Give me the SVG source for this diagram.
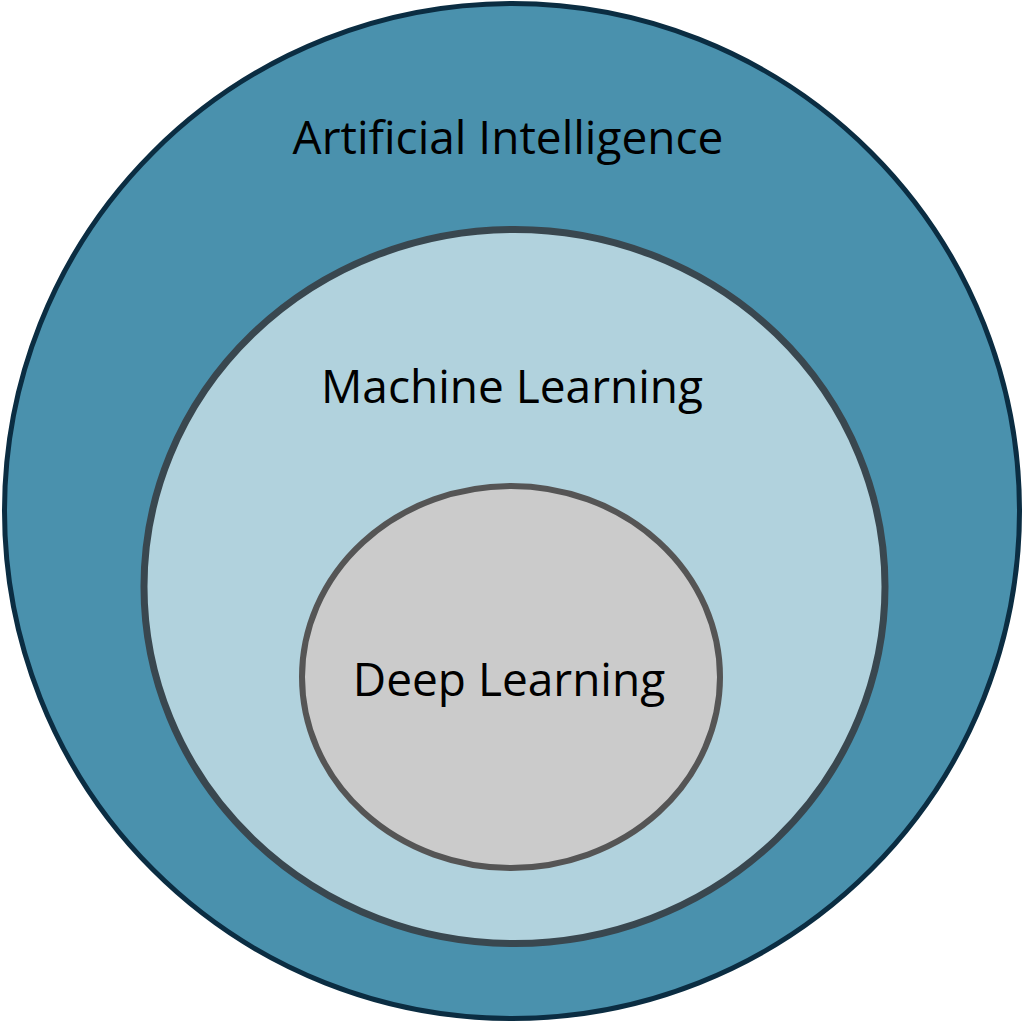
<svg xmlns="http://www.w3.org/2000/svg" width="1024" height="1023" viewBox="0 0 1024 1023">
<style>
.lbl{font-family:"Open Sans","Noto Sans","Liberation Sans",sans-serif;font-size:46px;fill:#000;text-anchor:middle}
</style>
<rect width="1024" height="1023" fill="#ffffff"/>
<g id="ai">
<ellipse cx="512" cy="511" rx="507.5" ry="507.5" fill="#4a91ad" stroke="#0b2d42" stroke-width="5"/>
<text class="lbl" x="508" y="154">Artificial Intelligence</text>
</g>
<g id="ml">
<ellipse cx="514.5" cy="586.5" rx="370.5" ry="357" fill="#b1d2dd" stroke="#39474f" stroke-width="7"/>
<text class="lbl" x="512" y="403">Machine Learning</text>
</g>
<g id="dl">
<ellipse cx="511" cy="677" rx="209" ry="191" fill="#cbcbcb" stroke="#555555" stroke-width="6"/>
<text class="lbl" x="509" y="696">Deep Learning</text>
</g>
<g id="connectors"/>
</svg>
